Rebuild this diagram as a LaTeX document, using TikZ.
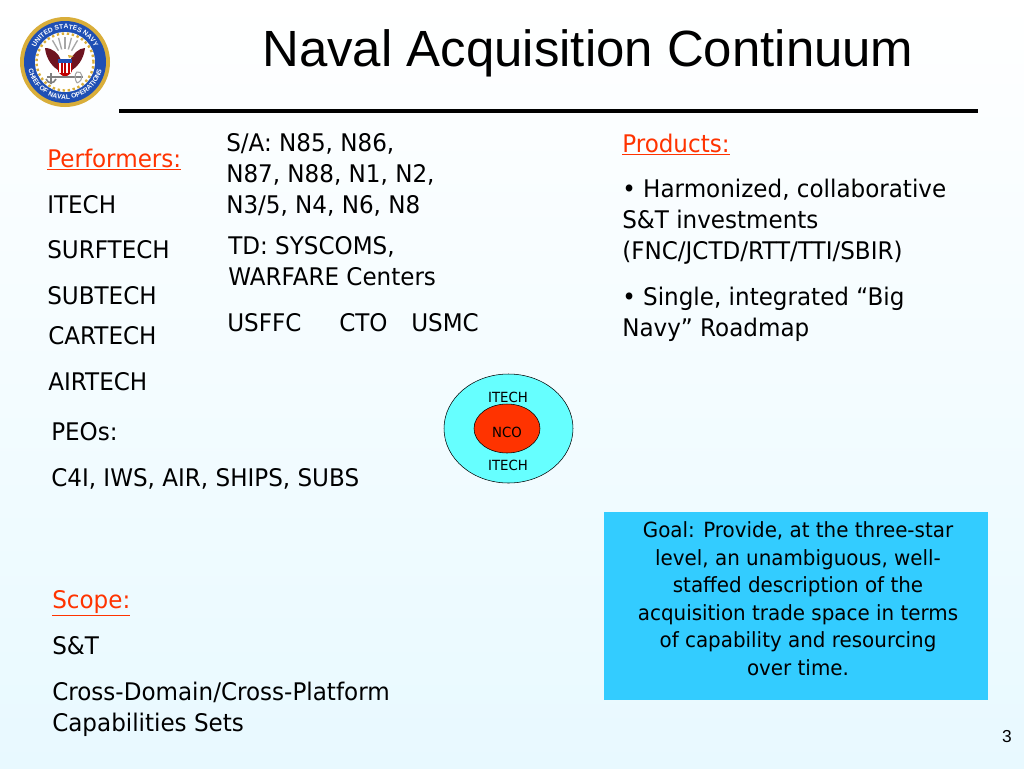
\documentclass[tikz,border=0pt]{standalone}
\usepackage{fontspec}
\setmainfont{Liberation Sans}
\newfontfamily\tahomafont[FakeStretch=0.95]{DejaVu Sans}
\usetikzlibrary{decorations.text}
\definecolor{navyred}{HTML}{FF3300}
\definecolor{goalblue}{HTML}{33CCFF}
\definecolor{itechcyan}{HTML}{66FFFF}
\definecolor{sealblue}{HTML}{1F4FB4}
\definecolor{sealgold}{HTML}{D9AE3A}
\definecolor{eaglered}{HTML}{6E1420}
\definecolor{paleblue}{HTML}{E8F9FF}
\tikzset{
  body/.style={anchor=base west, inner sep=0pt, align=left, font=\tahomafont\fontsize{18.2}{22.9}\selectfont},
  head/.style={body, text=navyred},
  small/.style={anchor=center, inner sep=0pt, font=\tahomafont\fontsize{10.5}{12}\selectfont},
}
\begin{document}
\begin{tikzpicture}[x=0.75pt, y=-0.75pt]
      \useasboundingbox (0,0) rectangle (1024,768);
      \shade[top color=white, bottom color=paleblue] (0,0) rectangle (1024,768);

      % title
      \node[anchor=base, inner sep=0pt, font=\fontsize{38.2}{42}\selectfont] (title) at (588,66) {Naval Acquisition Continuum};
      \coordinate (ruleL) at (119,111);
      \coordinate (ruleR) at (978,111);
      \draw[line width=3pt] (ruleL) -- (ruleR);

      % seal
      \coordinate (seal) at (65,62);
      \begin{scope}[shift={(seal)}, x=0.75pt, y=0.75pt]
        \fill[sealgold] (0,0) circle (45);
        \fill[sealblue] (0,0) circle (41);
        \fill[white] (0,0) circle (30);
        \draw[sealgold, line width=1.8pt, dotted] (0,0) circle (28.5);
        \path[decorate, decoration={text along path, text align=center,
            text={|\bfseries\fontsize{5}{5}\selectfont\color{white}|UNITED STATES NAVY}}]
            (-32,8) arc (166:14:33);
        \path[decorate, decoration={text along path, text align=center,
            text={|\bfseries\fontsize{5}{5}\selectfont\color{white}|CHIEF OF NAVAL OPERATIONS}}]
            (-37,-5) arc (188:352:37.5);
        \foreach \a in {60,75,90,105,120}
          \draw[gray!70, line width=1pt] (\a:13) -- (\a:25);
        \fill[eaglered] (-20,14) .. controls (-12,14) and (-6,8) .. (-4,2) -- (-5,-9) .. controls (-12,-6) and (-19,3) .. (-20,14);
        \fill[eaglered] (20,14) .. controls (14,14) and (8,8) .. (5,2) -- (5,-9) .. controls (12,-6) and (19,3) .. (20,14);
        \fill[white] (0,0) rectangle (6,9);
        \fill[sealgold] (3,7) -- (9,6) -- (4,4) -- cycle;
        \fill[sealblue] (-7,-1) rectangle (7,3);
        \fill[red!75!black] (-7,-1) -- (7,-1) -- (7,-9) .. controls (6,-12) and (2,-14) .. (0,-15) .. controls (-2,-14) and (-6,-12) .. (-7,-9) -- cycle;
        \foreach \s in {-4.5,-1,2.5,6}
          \draw[white, line width=0.8pt] (\s-0.5,-1) -- (\s-0.5,-11);
        \draw[gray, line width=1.2pt] (-18,-15) -- (18,-15);
        \draw[gray, line width=1.2pt] (-14,-22) -- (-14,-11) (-19,-17) .. controls (-17,-22) and (-11,-22) .. (-9,-17);
        \draw[gray!70, line width=0.8pt] (12,-21) .. controls (20,-18) and (17,-8) .. (12,-10) .. controls (9,-12) and (10,-18) .. (12,-21);
      \end{scope}

      % left column
      \node[head] (performers) at (47,167) {\underline{Performers:}};
      \node[body] (itechL) at (47,213) {ITECH};
      \node[body] (surftech) at (47,258) {SURFTECH};
      \node[body] (subtech) at (47,304) {SUBTECH};
      \node[body] (cartech) at (48,344) {CARTECH};
      \node[body] (airtech) at (48,390) {AIRTECH};
      \node[body] (peos) at (51,440) {PEOs:};
      \node[body] (peolist) at (51,486) {C4I, IWS, AIR, SHIPS, SUBS};
      \node[head] (scope) at (52,608) {\underline{Scope:}};
      \node[body] (st) at (52,654) {S\&T};
      \node[body] (crossA) at (52,700) {Cross-Domain/Cross-Platform};
      \node[body] (crossB) at (52,731) {Capabilities Sets};

      % middle column
      \node[body] (sa) at (226,213) {S/A: N85, N86,\\N87, N88, N1, N2,\\N3/5, N4, N6, N8};
      \node[body] (td) at (228,285) {TD: SYSCOMS,\\WARFARE Centers};
      \node[body] (usffc) at (227,331) {USFFC};
      \node[body] (cto) at (339,331) {CTO};
      \node[body] (usmc) at (411,331) {USMC};

      % right column
      \node[head] (products) at (622,152) {\underline{Products:}};
      \node[body] (bulletA) at (622,259) {• Harmonized, collaborative\\S\&T investments\\(FNC/JCTD/RTT/TTI/SBIR)};
      \node[body] (bulletB) at (622,336) {• Single, integrated “Big\\Navy” Roadmap};

      % ellipses
      \draw[fill=itechcyan, thin] (508.5,428.5) ellipse (64.5 and 54.5);
      \draw[fill=navyred, thin] (507,428.5) ellipse (33 and 24.5);
      \node[small] (itechT) at (508,397) {ITECH};
      \node[small] (nco) at (507,432) {NCO};
      \node[small] (itechB) at (508,465) {ITECH};

      % goal box
      \fill[goalblue] (604,512) rectangle (988,700);
      \node[anchor=base, inner sep=0pt, align=center, font=\tahomafont\fontsize{15.7}{20.6}\selectfont] (goal) at (798,675)
        {Goal: Provide, at the three-star\\level, an unambiguous, well-\\staffed description of the\\acquisition trade space in terms\\of capability and resourcing\\over time.};

      \node[anchor=base, inner sep=0pt, font=\fontsize{13}{15}\selectfont] (page) at (1007,742) {3};
    \end{tikzpicture}
\end{document}
